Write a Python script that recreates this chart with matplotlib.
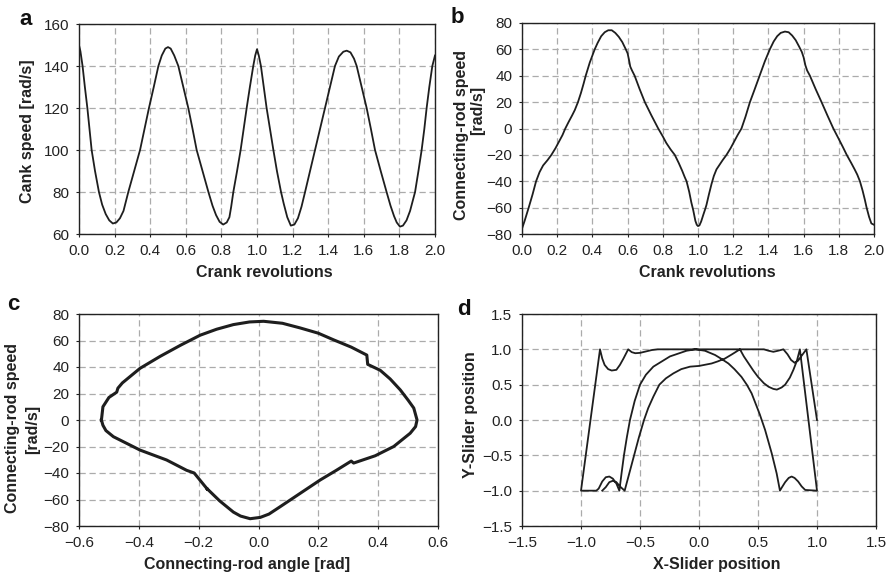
import matplotlib
matplotlib.use('Agg')
import matplotlib.pyplot as plt

plt.rcParams['font.family'] = ['Liberation Sans', 'DejaVu Sans']

# ---------------- data ----------------
# (a) crank speed vs crank revolutions
a_x = [0.0, 0.008, 0.02, 0.033, 0.047, 0.059, 0.071, 0.09, 0.112, 0.13, 0.15, 0.17,
       0.19, 0.21, 0.23, 0.25, 0.277, 0.31, 0.343, 0.368, 0.393, 0.42, 0.446, 0.465,
       0.485, 0.50, 0.515, 0.535, 0.558, 0.586, 0.614, 0.638, 0.661, 0.694, 0.727, 0.75,
       0.77, 0.79, 0.81, 0.83, 0.845, 0.855, 0.867, 0.888, 0.908, 0.925, 0.942, 0.96,
       0.979, 0.99, 1.0, 1.01, 1.022, 1.038, 1.054, 1.073, 1.092, 1.112, 1.135, 1.15,
       1.17, 1.19, 1.21, 1.23, 1.25, 1.27, 1.298, 1.326, 1.354, 1.382, 1.41, 1.438,
       1.46, 1.485, 1.504, 1.525, 1.545, 1.56, 1.588, 1.616, 1.64, 1.663, 1.695, 1.728,
       1.75, 1.77, 1.785, 1.803, 1.82, 1.84, 1.86, 1.888, 1.907, 1.925, 1.94, 1.953,
       1.968, 1.985, 2.0]
a_y = [150, 147, 140, 130, 120, 110, 100, 90, 80, 74, 69.5, 66.5,
       65, 65.5, 67.5, 71, 80, 90, 100, 110, 120, 130, 140, 145,
       148.3, 149, 148.3, 145, 140, 130, 120, 110, 100, 90, 80, 73.5,
       69, 65.8, 64.5, 65.5, 68, 73, 80, 90, 100, 110, 120, 130,
       140, 145, 148, 145, 140, 130, 120, 110, 100, 90, 80, 74.5,
       68, 64, 64.5, 67.5, 73, 80, 90, 100, 110, 120, 130, 140,
       144.5, 146.8, 147.3, 146.5, 143.5, 140, 130, 120, 110, 100, 90, 80,
       73.5, 68.5, 65.5, 63.5, 64, 66.5, 71, 80, 90, 100, 110, 120,
       130, 140, 145]

# (b) connecting-rod speed vs crank revolutions
b_x = [0.0, 0.015, 0.038, 0.06, 0.08, 0.10, 0.12, 0.145, 0.167, 0.19, 0.21, 0.23,
       0.246, 0.265, 0.285, 0.30, 0.318, 0.335, 0.35, 0.362, 0.385, 0.413, 0.43, 0.45,
       0.47, 0.49, 0.51, 0.53, 0.55, 0.57, 0.59, 0.60, 0.608, 0.615, 0.625, 0.64,
       0.668, 0.698, 0.735, 0.774, 0.80, 0.82, 0.845, 0.868, 0.89, 0.91, 0.925, 0.935,
       0.95, 0.962, 0.973, 0.985, 0.993, 1.0, 1.008, 1.018, 1.03, 1.04, 1.048, 1.062,
       1.077, 1.09, 1.105, 1.12, 1.14, 1.162, 1.185, 1.205, 1.225, 1.247, 1.27, 1.295,
       1.32, 1.35, 1.38, 1.408, 1.43, 1.45, 1.47, 1.494, 1.515, 1.535, 1.555, 1.575,
       1.59, 1.60, 1.61, 1.62, 1.636, 1.668, 1.702, 1.735, 1.769, 1.80, 1.823, 1.845,
       1.87, 1.89, 1.905, 1.92, 1.935, 1.948, 1.958, 1.972, 1.985, 2.0]
b_y = [-76, -70, -60, -50, -40, -33, -28, -24, -20, -15, -10, -5,
       0, 5, 10, 14, 20, 27, 34, 40, 50, 60, 65, 70,
       73, 74.5, 74.5, 72.5, 69.5, 65.5, 60, 57, 52, 47, 44, 40,
       30, 20, 10, 0, -6, -11, -16, -20, -26, -32, -37, -40,
       -48, -56, -62, -70, -73, -74, -73.5, -70.5, -65.5, -61.5, -58, -50,
       -42, -36, -31, -28, -24, -20, -15, -10, -5, 0, 9, 20,
       29, 40, 51, 60, 66, 70, 72.5, 73.5, 73, 70.5, 67, 62,
       58, 54, 48, 44, 40, 30, 20, 10, 0, -8, -14, -20,
       -26, -31, -35, -40, -47, -54, -60, -67, -72, -73]

# (c) phase plot: connecting-rod angle vs speed
c_x = [-0.525, -0.52, -0.50, -0.474, -0.47, -0.455, -0.396, -0.329, -0.26, -0.195, -0.14,
       -0.084, -0.03, 0.017, 0.08, 0.139, 0.20, 0.251, 0.31, 0.362, 0.365, 0.407, 0.44,
       0.474, 0.50, 0.519, 0.53, 0.525, 0.507, 0.452, 0.39, 0.318, 0.31, 0.26, 0.206,
       0.139, 0.072, 0.035, 0.006, -0.028, -0.06, -0.084, -0.13, -0.173, -0.17, -0.215,
       -0.24, -0.307, -0.396, -0.485, -0.51, -0.52, -0.525]
c_y = [0, 10, 17, 21, 24, 28, 39, 48, 56.5, 64, 68.5,
       72, 74, 74.5, 73, 69.5, 65.5, 60.5, 55, 49, 42, 37.5, 31,
       22.7, 15, 9, 0, -5, -10, -20, -27, -32.5, -31, -38, -45.3,
       -55.4, -65.5, -71, -73.5, -74.5, -72.5, -69.5, -61, -51.6, -52.5, -40,
       -38, -30.2, -22.7, -12.6, -8, -4, 0]

# (d) X-slider position vs Y-slider position
d_x = [-0.82, -0.79, -0.76, -0.73, -0.70, -0.67, -0.63,
       -0.59, -0.55, -0.51, -0.466, -0.43, -0.387, -0.336, -0.28, -0.217, -0.15, -0.076,
       0.0, 0.107, 0.16, 0.22, 0.28, 0.347,
       0.38, 0.42, 0.46, 0.50, 0.55, 0.59, 0.63, 0.66, 0.70, 0.73, 0.77, 0.80, 0.83, 0.855,
       1.0, 0.90, 0.87, 0.84, 0.81, 0.785, 0.76, 0.73, 0.70, 0.686,
       0.658, 0.616, 0.56, 0.515, 0.446, 0.405, 0.36, 0.30, 0.249, 0.19, 0.136, 0.05,
       -0.03, -0.105, -0.246, -0.387, -0.45, -0.50, -0.545, -0.585, -0.612, -0.636,
       -0.656, -0.675,
       -0.70, -0.73, -0.76, -0.79, -0.82, -0.85, -0.87, -1.0,
       -0.839, -0.82, -0.80, -0.77, -0.74, -0.70, -0.67, -0.64, -0.60,
       -0.57, -0.54, -0.50, -0.45, -0.40, -0.35, 0.55, 0.59, 0.63, 0.67, 0.715,
       0.75, 0.78, 0.81, 0.84, 0.87, 0.91, 1.0]
d_y = [-1.0, -0.95, -0.88, -0.86, -0.88, -0.94, -1.0,
       -0.75, -0.5, -0.25, 0.0, 0.17, 0.33, 0.5, 0.59, 0.66, 0.72, 0.755,
       0.765, 0.80, 0.83, 0.87, 0.93, 1.0,
       0.90, 0.80, 0.70, 0.61, 0.52, 0.47, 0.44, 0.43, 0.46, 0.50, 0.60, 0.71, 0.84, 1.0,
       -1.0, -0.99, -0.94, -0.87, -0.82, -0.80, -0.82, -0.88, -0.96, -1.0,
       -0.755, -0.47, -0.14, 0.08, 0.377, 0.50, 0.61, 0.72, 0.80, 0.865, 0.92, 0.98,
       1.0, 0.98, 0.90, 0.755, 0.64, 0.5, 0.27, 0.0, -0.25, -0.5,
       -0.75, -1.0,
       -0.90, -0.83, -0.80, -0.81, -0.87, -0.97, -1.0, -1.0,
       1.0, 0.87, 0.78, 0.72, 0.70, 0.71, 0.78, 0.87, 1.0,
       0.96, 0.945, 0.95, 0.97, 0.99, 1.0, 1.0, 0.98, 0.965, 0.98, 1.0,
       0.93, 0.85, 0.81, 0.84, 0.91, 1.0, 0.0]

a_xticks = [0.0, 0.2, 0.4, 0.6, 0.8, 1.0, 1.2, 1.4, 1.6, 1.8, 2.0]
a_yticks = [60, 80, 100, 120, 140, 160]
b_yticks = [-80, -60, -40, -20, 0, 20, 40, 60, 80]
c_xticks = [-0.6, -0.4, -0.2, 0.0, 0.2, 0.4, 0.6]
d_ticks = [-1.5, -1.0, -0.5, 0.0, 0.5, 1.0, 1.5]

# ---------------- figure ----------------
W, H = 889, 576
fig = plt.figure(figsize=(W / 100, H / 100), dpi=100)


def box(l, t, r, b):
    return [l / W, 1 - b / H, (r - l) / W, (b - t) / H]


ax_a = fig.add_axes(box(79, 24, 435, 234))
ax_b = fig.add_axes(box(522, 23, 874, 234))
ax_c = fig.add_axes(box(79, 314, 438, 526))
ax_d = fig.add_axes(box(522, 314, 876, 526))

LINE = '#1e1e1e'


def style(ax):
    ax.set_axisbelow(True)
    ax.grid(True, color='#ababab', linestyle=(0, (5, 3)), linewidth=0.9)
    for s in ax.spines.values():
        s.set_linewidth(1.0)
        s.set_color('#222222')
    ax.tick_params(direction='out', length=2.5, width=0.8, labelsize=11,
                   colors='#222222', pad=4.5)


def fmt(vals):
    return [f'{v:.1f}'.replace('-', '\u2212') for v in vals]


style(ax_a)
ax_a.plot(a_x, a_y, color=LINE, lw=1.3)
ax_a.set_xlim(0, 2.0)
ax_a.set_ylim(60, 160)
ax_a.set_xticks(a_xticks)
ax_a.set_xticklabels(fmt(a_xticks))
ax_a.set_yticks(a_yticks)

style(ax_b)
ax_b.plot(b_x, b_y, color=LINE, lw=1.3)
ax_b.set_xlim(0, 2.0)
ax_b.set_ylim(-80, 80)
ax_b.set_xticks(a_xticks)
ax_b.set_xticklabels(fmt(a_xticks))
ax_b.set_yticks(b_yticks)

style(ax_c)
ax_c.plot(c_x, c_y, color=LINE, lw=2.2)
ax_c.set_xlim(-0.6, 0.6)
ax_c.set_ylim(-80, 80)
ax_c.set_xticks(c_xticks)
ax_c.set_xticklabels(fmt(c_xticks))
ax_c.set_yticks(b_yticks)

style(ax_d)
ax_d.plot(d_x, d_y, color=LINE, lw=1.3)
ax_d.set_xlim(-1.5, 1.5)
ax_d.set_ylim(-1.5, 1.5)
ax_d.set_xticks(d_ticks)
ax_d.set_yticks(d_ticks)
ax_d.set_xticklabels(fmt(d_ticks))
ax_d.set_yticklabels(fmt(d_ticks))


def ftext(x, y, s, **kw):
    fig.text(x / W, 1 - y / H, s, **kw)


LAB = dict(fontsize=11.5, fontweight='bold', color='#222222', ha='center', va='center')
ftext(264, 273, 'Crank revolutions', **LAB)
ftext(707, 273, 'Crank revolutions', **LAB)
ftext(247, 565, 'Connecting-rod angle [rad]', **LAB)
ftext(717, 565, 'X-Slider position', **LAB)
ftext(28, 131, 'Cank speed [rad/s]', rotation=90, **LAB)
ftext(462, 135, 'Connecting-rod speed', rotation=90, **LAB)
ftext(478, 110, '[rad/s]', rotation=90, **LAB)
ftext(13, 428, 'Connecting-rod speed', rotation=90, **LAB)
ftext(33, 429, '[rad/s]', rotation=90, **LAB)
ftext(470, 415, 'Y-Slider position', rotation=90, **LAB)

LET = dict(fontsize=16, fontweight='bold', color='#111111', ha='center', va='baseline')
ftext(26, 25, 'a', **LET)
ftext(457, 23, 'b', **LET)
ftext(13, 310, 'c', **LET)
ftext(464, 315, 'd', **LET)

fig.savefig('out.png', dpi=100, facecolor='white')
